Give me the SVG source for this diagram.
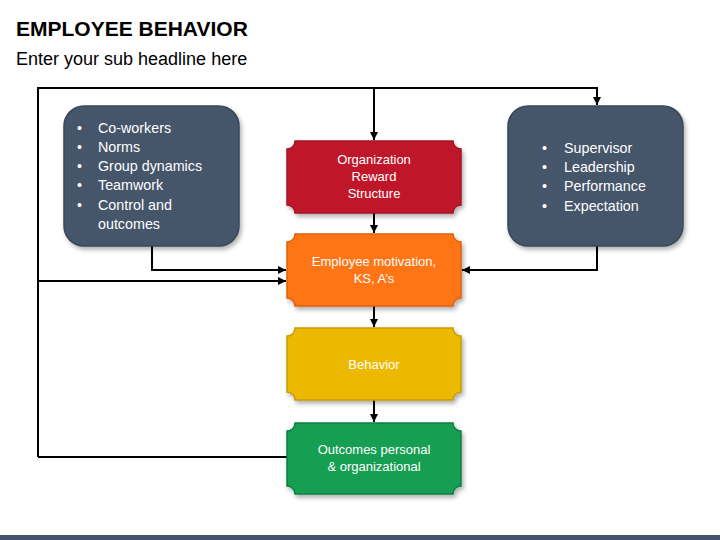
<svg xmlns="http://www.w3.org/2000/svg" width="720" height="540" viewBox="0 0 720 540">
<style>
.title{font-family:"Liberation Sans",Arial,sans-serif;font-weight:bold;font-size:21px;fill:#000}
.sub{font-family:"Liberation Sans",Arial,sans-serif;font-size:18px;fill:#000}
.bl{font-family:"Liberation Sans",Arial,sans-serif;font-size:14.3px;fill:#fff}
.nt{font-family:"Liberation Sans",Arial,sans-serif;font-size:13px;fill:#fff;text-anchor:middle}
.con{fill:none;stroke:#000;stroke-width:2}
.dark{fill:#44546A;stroke:#3A4759;stroke-width:1.5}
</style>
<defs>
<filter id="sh" x="-10%" y="-10%" width="130%" height="130%">
<feDropShadow dx="2" dy="3" stdDeviation="2" flood-color="#000" flood-opacity="0.3"/>
</filter>
<marker id="ar" viewBox="0 0 10 10" refX="10" refY="5" markerWidth="4" markerHeight="4" orient="auto" markerUnits="strokeWidth">
<path d="M0,0 L10,5 L0,10 Z" fill="#000"/>
</marker>
</defs>
<rect width="720" height="540" fill="#fff"/>
<text class="title" x="16" y="36">EMPLOYEE BEHAVIOR</text>
<text class="sub" x="16" y="65">Enter your sub headline here</text>
<rect x="0" y="535" width="720" height="5" fill="#44546A"/>

<g id="connectors">
<path class="con" d="M38,457 L38,88 L597,88 L597,105" marker-end="url(#ar)"/>
<path class="con" d="M374,88 L374,140" marker-end="url(#ar)"/>
<path class="con" d="M38,281 L286,281" marker-end="url(#ar)"/>
<path class="con" d="M152,246 L152,270 L286,270" marker-end="url(#ar)"/>
<path class="con" d="M597,246 L597,270 L462,270" marker-end="url(#ar)"/>
<path class="con" d="M374,213 L374,233" marker-end="url(#ar)"/>
<path class="con" d="M374,306 L374,327" marker-end="url(#ar)"/>
<path class="con" d="M374,400 L374,422" marker-end="url(#ar)"/>
<path class="con" d="M38,457 L287,457"/>
</g>

<g id="coworkers">
<rect class="dark" x="64" y="106" width="175" height="140" rx="20" ry="20" filter="url(#sh)"/>
<g class="bl">
<text x="77" y="133">•</text><text x="98" y="133">Co-workers</text>
<text x="77" y="152">•</text><text x="98" y="152">Norms</text>
<text x="77" y="171">•</text><text x="98" y="171">Group dynamics</text>
<text x="77" y="190">•</text><text x="98" y="190">Teamwork</text>
<text x="77" y="210">•</text><text x="98" y="210">Control and</text>
<text x="98" y="229">outcomes</text>
</g>
</g>

<g id="supervisor">
<rect class="dark" x="508" y="106" width="175" height="140" rx="20" ry="20" filter="url(#sh)"/>
<g class="bl">
<text x="542" y="153">•</text><text x="564" y="153">Supervisor</text>
<text x="542" y="172">•</text><text x="564" y="172">Leadership</text>
<text x="542" y="191">•</text><text x="564" y="191">Performance</text>
<text x="542" y="211">•</text><text x="564" y="211">Expectation</text>
</g>
</g>

<g id="reward">
<path d="M295,141 L453,141 A8,8 0 0 0 461,149 L461,205 A8,8 0 0 0 453,213 L295,213 A8,8 0 0 0 287,205 L287,149 A8,8 0 0 0 295,141 Z" fill="#C0182A" stroke="#A51424" stroke-width="1.5" filter="url(#sh)"/>
<text class="nt" x="374" y="164">Organization</text>
<text class="nt" x="374" y="181">Reward</text>
<text class="nt" x="374" y="198">Structure</text>
</g>

<g id="motivation">
<path d="M295,234 L453,234 A8,8 0 0 0 461,242 L461,298 A8,8 0 0 0 453,306 L295,306 A8,8 0 0 0 287,298 L287,242 A8,8 0 0 0 295,234 Z" fill="#FF7518" stroke="#E0600C" stroke-width="1.5" filter="url(#sh)"/>
<text class="nt" x="374" y="266">Employee motivation,</text>
<text class="nt" x="374" y="283">KS, A’s</text>
</g>

<g id="behavior">
<path d="M295,328 L453,328 A8,8 0 0 0 461,336 L461,392 A8,8 0 0 0 453,400 L295,400 A8,8 0 0 0 287,392 L287,336 A8,8 0 0 0 295,328 Z" fill="#EDB800" stroke="#C99C00" stroke-width="1.5" filter="url(#sh)"/>
<text class="nt" x="374" y="369">Behavior</text>
</g>

<g id="outcomes">
<path d="M295,423 L453,423 A8,8 0 0 0 461,431 L461,486 A8,8 0 0 0 453,494 L295,494 A8,8 0 0 0 287,486 L287,431 A8,8 0 0 0 295,423 Z" fill="#139E52" stroke="#0E8043" stroke-width="1.5" filter="url(#sh)"/>
<text class="nt" x="374" y="454">Outcomes personal</text>
<text class="nt" x="374" y="471">&amp; organizational</text>
</g>
</svg>
